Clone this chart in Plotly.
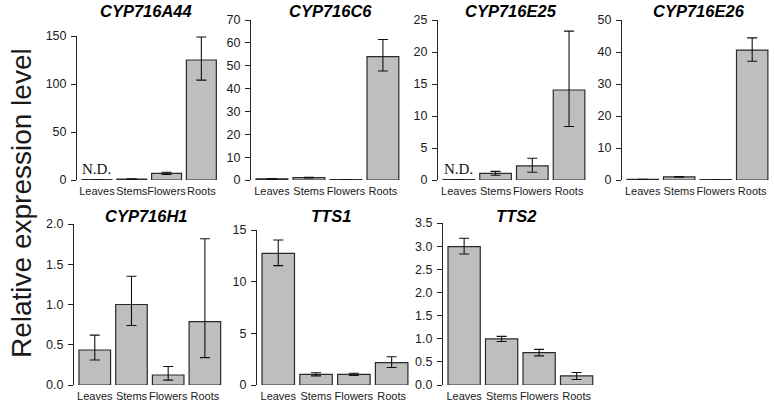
import plotly.graph_objects as go
import math

W, H = 774, 403

categories = ["Leaves", "Stems", "Flowers", "Roots"]
genes = ["CYP716A44", "CYP716C6", "CYP716E25", "CYP716E26", "CYP716H1", "TTS1", "TTS2"]

# mean relative expression (N.D. = not detected -> 0)
cyp716a44 = [0.0, 1.0, 6.9, 125.0]
cyp716c6 = [0.5, 1.0, 0.1, 54.0]
cyp716e25 = [0.0, 1.04, 2.2, 14.06]
cyp716e26 = [0.2, 1.0, 0.05, 40.6]
cyp716h1 = [0.435, 1.0, 0.124, 0.787]
tts1 = [12.74, 1.03, 1.03, 2.16]
tts2 = [2.99, 0.996, 0.70, 0.195]

# error bars (upper / lower)
err_up_a44 = [0.0, 0.3, 1.2, 24.0]
err_dn_a44 = [0.0, 0.3, 1.2, 21.0]
err_up_c6 = [0.1, 0.15, 0.02, 7.5]
err_dn_c6 = [0.1, 0.15, 0.02, 6.3]
err_up_e25 = [0.0, 0.3, 1.2, 9.2]
err_dn_e25 = [0.0, 0.3, 1.0, 5.7]
err_up_e26 = [0.05, 0.1, 0.01, 3.8]
err_dn_e26 = [0.05, 0.1, 0.01, 3.5]
err_up_h1 = [0.185, 0.35, 0.106, 1.03]
err_dn_h1 = [0.125, 0.26, 0.064, 0.447]
err_up_tts1 = [1.29, 0.15, 0.1, 0.58]
err_dn_tts1 = [1.19, 0.15, 0.1, 0.46]
err_up_tts2 = [0.18, 0.054, 0.07, 0.075]
err_dn_tts2 = [0.16, 0.056, 0.07, 0.075]

not_detected = [[True, False, False, False], [False] * 4, [True, False, False, False],
                [False] * 4, [False] * 4, [False] * 4, [False] * 4]

# y-axis tick values
ticks_a44 = [0, 50, 100, 150]
ticks_c6 = [0, 10, 20, 30, 40, 50, 60, 70]
ticks_e25 = [0, 5, 10, 15, 20, 25]
ticks_e26 = [0, 10, 20, 30, 40, 50]
ticks_h1 = [0.0, 0.5, 1.0, 1.5, 2.0]
ticks_tts1 = [0, 5, 10, 15]
ticks_tts2 = [0.0, 0.5, 1.0, 1.5, 2.0, 2.5, 3.0, 3.5]

values = [cyp716a44, cyp716c6, cyp716e25, cyp716e26, cyp716h1, tts1, tts2]
ups = [err_up_a44, err_up_c6, err_up_e25, err_up_e26, err_up_h1, err_up_tts1, err_up_tts2]
dns = [err_dn_a44, err_dn_c6, err_dn_e25, err_dn_e26, err_dn_h1, err_dn_tts1, err_dn_tts2]
ticks = [ticks_a44, ticks_c6, ticks_e25, ticks_e26, ticks_h1, ticks_tts1, ticks_tts2]
fmts = ["d", "d", "d", "d", ".1f", "d", ".1f"]

# layout geometry in pixels: axis x, category pitch, baseline y, top-tick y, title centre x, title y
geom = [
    (77, 34.8, 180, 36, 146, 11),
    (251, 37.0, 180, 20, 330, 11),
    (438, 36.75, 180, 20, 511, 11),
    (622, 36.5, 180, 20, 699, 11),
    (74, 36.7, 385, 224, 146, 216),
    (257, 37.8, 385, 230, 331, 216),
    (443, 37.5, 385, 223, 516, 216),
]

BARGAP = 0.14
fig = go.Figure()
annotations = []
layout = {}

for i, g in enumerate(genes):
    ax, pitch, y0, yt, tx, ty = geom[i]
    n = i + 1
    xa = "x" if n == 1 else f"x{n}"
    ya = "y" if n == 1 else f"y{n}"
    ymax = ticks[i][-1]
    drawn = [max(v, ymax * 0.002) for v in values[i]]
    up = [float("nan") if nd else e for e, nd in zip(ups[i], not_detected[i])]
    dn = [float("nan") if nd else e for e, nd in zip(dns[i], not_detected[i])]
    fig.add_trace(go.Bar(
        x=categories, y=drawn, xaxis=xa, yaxis=ya,
        marker=dict(color="#BEBEBE", line=dict(color="#2a2a2a", width=1.2)),
        error_y=dict(type="data", symmetric=False, array=up, arrayminus=dn,
                     color="#111111", thickness=1.1, width=5),
        showlegend=False, hoverinfo="skip",
    ))
    lower = -(0.5 - BARGAP / 2 + 5.0 / pitch)
    upper = 3.55
    x1 = ax + (upper - lower) * pitch
    layout["xaxis" if n == 1 else f"xaxis{n}"] = dict(
        domain=[ax / W, x1 / W], range=[lower, upper], anchor=ya,
        showline=False, showgrid=False, zeroline=False, ticks="",
        tickangle=0, automargin=False, ticklabelstandoff=3,
        tickfont=dict(family="Liberation Sans, Arial", size=11, color="#1a1a1a"),
        fixedrange=True,
    )
    layout["yaxis" if n == 1 else f"yaxis{n}"] = dict(
        domain=[1 - y0 / H, 1 - yt / H], range=[0, ymax], anchor=xa,
        tickvals=ticks[i], tickformat=fmts[i],
        showline=True, linecolor="#222222", linewidth=1,
        ticks="outside", ticklen=5, tickcolor="#222222", tickwidth=1,
        showgrid=False, zeroline=False, automargin=False,
        tickfont=dict(family="Liberation Sans, Arial", size=12.5, color="#1a1a1a"),
        ticklabelstandoff=2, fixedrange=True,
    )
    annotations.append(dict(
        text=f"<b><i>{g}</i></b>", xref="paper", yref="paper",
        x=tx / W, y=1 - ty / H, xanchor="center", yanchor="middle",
        showarrow=False, font=dict(family="Liberation Sans, Arial", size=16.5, color="#000000"),
    ))
    for c, nd in zip(categories, not_detected[i]):
        if nd:
            annotations.append(dict(
                text="N.D.", xref=xa, yref=ya, x=c, y=0, xanchor="center", yanchor="bottom",
                yshift=1, showarrow=False,
                font=dict(family="Liberation Serif, Times New Roman", size=15, color="#111111"),
            ))

annotations.append(dict(
    text="Relative expression level", xref="paper", yref="paper",
    x=21 / W, y=1 - 203 / H, xanchor="center", yanchor="middle", textangle=-90,
    showarrow=False, font=dict(family="Liberation Sans, Arial", size=28, color="#1a1a1a"),
))

fig.update_layout(
    width=W, height=H, margin=dict(l=0, r=0, t=0, b=0),
    paper_bgcolor="white", plot_bgcolor="white",
    bargap=BARGAP, annotations=annotations, **layout,
)

fig.write_html(
    "out.html",
    config={"displayModeBar": False, "staticPlot": True},
    post_script="document.body.style.margin='0';document.body.style.overflow='hidden';",
)
